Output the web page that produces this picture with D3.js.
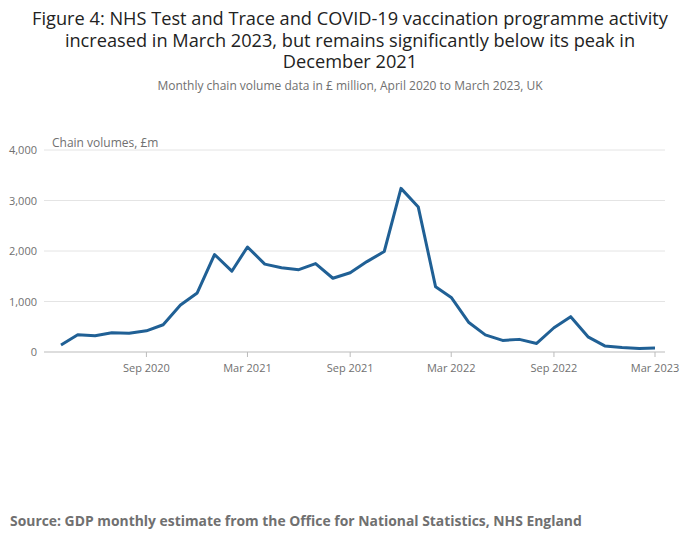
<!DOCTYPE html>
<html><head><meta charset="utf-8">
<script src="https://cdn.jsdelivr.net/npm/d3@7"></script>
<style>body{margin:0;background:#fff;font-family:"Open Sans",sans-serif}</style>
</head><body><svg id="c" width="700" height="549"></svg>
<script>
// monthly chain volumes, £m, April 2020 .. March 2023
var startMonth = new Date(2020, 3, 1);
var values = [140, 340, 320, 380, 370, 420, 540, 930, 1170, 1930, 1600, 2080,
  1740, 1670, 1630, 1750, 1460, 1570, 1790, 1990, 3240, 2870, 1290, 1080,
  590, 340, 230, 250, 170, 480, 700, 300, 120, 90, 70, 80];
var yTicks = [0, 1000, 2000, 3000, 4000];
var xTicks = [new Date(2020, 8, 1), new Date(2021, 2, 1), new Date(2021, 8, 1),
  new Date(2022, 2, 1), new Date(2022, 8, 1), new Date(2023, 2, 1)];
var titleLines = ["Figure 4: NHS Test and Trace and COVID-19 vaccination programme activity",
  "increased in March 2023, but remains significantly below its peak in", "December 2021"];

var data = values.map(function(v, i) {
  return {date: new Date(startMonth.getFullYear(), startMonth.getMonth() + i, 1), value: v};
});

var svg = d3.select("#c");
var x = d3.scaleTime().domain([data[0].date, data[data.length - 1].date]).range([61, 655]);
var y = d3.scaleLinear().domain([0, 4000]).range([352, 150]);

svg.selectAll("text.title").data(titleLines).enter().append("text")
  .attr("x", 350).attr("y", function(d, i) { return 25 + i * 21.5; })
  .attr("text-anchor", "middle").style("font-size", "18.2px").style("fill", "#222")
  .text(function(d) { return d; });
svg.append("text").attr("x", 350).attr("y", 90).attr("text-anchor", "middle")
  .style("font-size", "12px").style("fill", "#707070")
  .text("Monthly chain volume data in £ million, April 2020 to March 2023, UK");

// grid + y labels
var g = svg.append("g");
g.selectAll("line.grid").data(yTicks).enter().append("line")
  .attr("x1", 44).attr("x2", 665)
  .attr("y1", function(d) { return y(d); }).attr("y2", function(d) { return y(d); })
  .attr("stroke", function(d) { return d === 0 ? "#bbb" : "#e4e4e4"; });
g.selectAll("text.yl").data(yTicks).enter().append("text")
  .attr("x", 37).attr("y", function(d) { return y(d) + 4; })
  .attr("text-anchor", "end").style("font-size", "11px").style("fill", "#707070")
  .text(d3.format(","));
svg.append("text").attr("x", 52).attr("y", 147).style("font-size", "12px").style("fill", "#707070")
  .text("Chain volumes, £m");

// x axis
var fmt = d3.timeFormat("%b %Y");
g.selectAll("line.xt").data(xTicks).enter().append("line")
  .attr("x1", function(d) { return x(d); }).attr("x2", function(d) { return x(d); })
  .attr("y1", 352).attr("y2", 357).attr("stroke", "#bbb");
g.selectAll("text.xl").data(xTicks).enter().append("text")
  .attr("x", function(d) { return x(d); }).attr("y", 372)
  .attr("text-anchor", "middle").style("font-size", "11px").style("fill", "#707070")
  .text(fmt);

svg.append("path").datum(data)
  .attr("d", d3.line().x(function(d) { return x(d.date); }).y(function(d) { return y(d.value); }))
  .attr("fill", "none").attr("stroke", "#206095").attr("stroke-width", 3)
  .attr("stroke-linejoin", "round");

svg.append("text").attr("x", 10).attr("y", 526).style("font-size", "13.9px")
  .style("font-weight", "bold").style("fill", "#707070")
  .text("Source: GDP monthly estimate from the Office for National Statistics, NHS England");
</script></body></html>
